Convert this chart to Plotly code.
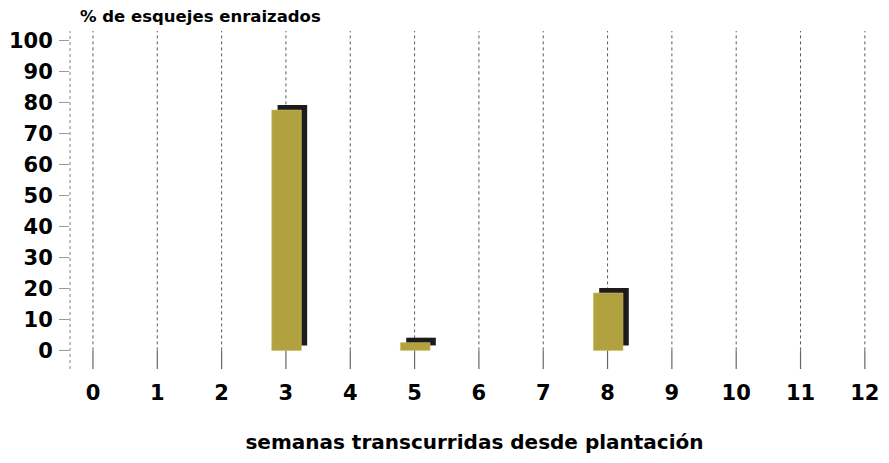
import plotly.graph_objects as go

weeks = list(range(0, 13))
bar_weeks = [3, 5, 8]
rooted_pct = [77.5, 2.5, 18.5]
y_ticks = [0, 10, 20, 30, 40, 50, 60, 70, 80, 90, 100]

FONT = "DejaVu Sans"
front_color = "#b1a13f"
shadow_color = "#1c1c1a"

fig = go.Figure()

# shadow (3D depth) of bars
fig.add_trace(go.Bar(
    x=bar_weeks, y=rooted_pct, base=[1.6] * len(bar_weeks),
    width=0.46, offset=-0.13,
    marker=dict(color=shadow_color, line=dict(width=0)),
    hoverinfo="skip", showlegend=False,
))
# front bars
fig.add_trace(go.Bar(
    x=bar_weeks, y=rooted_pct, base=[0] * len(bar_weeks),
    width=0.46, offset=-0.22,
    marker=dict(color=front_color, line=dict(width=0.6, color="#c9bb66")),
    showlegend=False,
))

shapes = []
for w in weeks:
    shapes.append(dict(type="line", xref="x", yref="y", x0=w, x1=w, y0=0, y1=103,
                       line=dict(color="#5a5a5a", width=1, dash="dot"), layer="below"))
    shapes.append(dict(type="line", xref="x", yref="y", x0=w, x1=w, y0=-6, y1=0,
                       line=dict(color="#666666", width=1.2), layer="below"))
# dotted y-axis line
shapes.append(dict(type="line", xref="paper", yref="y", x0=0, x1=0, y0=-6, y1=104,
                   line=dict(color="#808080", width=1, dash="dot"), layer="below"))

fig.update_layout(
    width=881, height=455,
    margin=dict(l=62, r=10, t=23, b=94),
    paper_bgcolor="white", plot_bgcolor="white",
    barmode="overlay",
    shapes=shapes,
    font=dict(family=FONT, color="black"),
    xaxis=dict(
        range=[-0.357, 12.22], automargin=False,
        tickmode="array", tickvals=weeks, ticktext=[str(w) for w in weeks],
        showgrid=False, zeroline=False, showline=False, ticks="",
        tickfont=dict(family=FONT, size=21, color="black", weight="bold"),
        ticklabelstandoff=9,
        title=dict(text="semanas transcurridas desde plantación",
                   font=dict(family=FONT, size=20, color="black", weight="bold"),
                   standoff=30),
    ),
    yaxis=dict(
        range=[-6, 103], automargin=False,
        tickmode="array", tickvals=y_ticks, ticktext=[str(v) for v in y_ticks],
        showgrid=False, zeroline=False, showline=False,
        ticks="outside", ticklen=10, tickcolor="#9a9a9a", tickwidth=1,
        tickfont=dict(family=FONT, size=21, color="black", weight="bold"),
        ticklabelstandoff=2,
    ),
    annotations=[dict(
        text="% de esquejes enraizados", xref="paper", yref="paper",
        x=0, y=1, xanchor="left", yanchor="bottom", xshift=8, yshift=3,
        showarrow=False, font=dict(family=FONT, size=16.5, color="black", weight="bold"),
    )],
)

fig.write_html("out.html")
